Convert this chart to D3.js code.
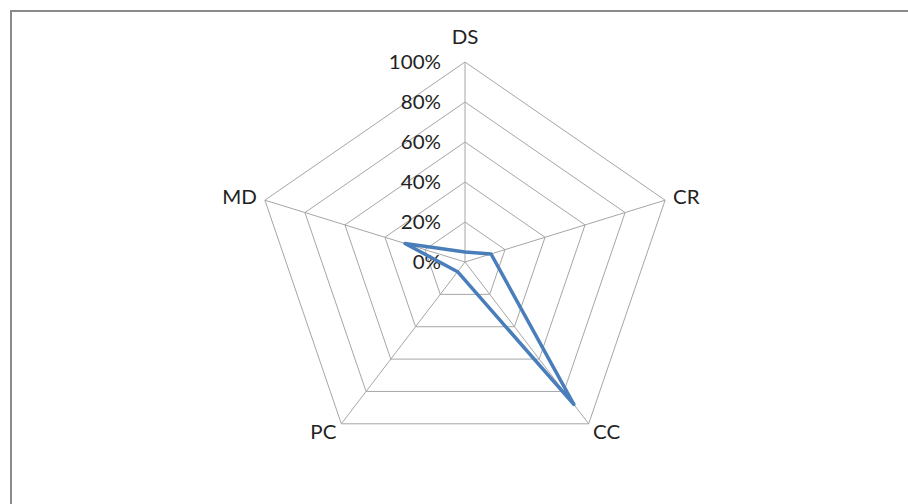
<!DOCTYPE html>
<html>
<head>
<meta charset="utf-8">
<script src="https://cdn.jsdelivr.net/npm/d3@7"></script>
<style>
  html, body { margin: 0; padding: 0; background: #fff; }
  svg { display: block; }
  text { font-family: Lato, "Open Sans", sans-serif; fill: #222; }
</style>
</head>
<body>
<svg id="chart" width="908" height="504"></svg>
<script>
const categories = ["DS", "CR", "CC", "PC", "MD"];
const seriesValues = [0.05, 0.13, 0.88, 0.06, 0.30];
const tickValues = [0, 0.2, 0.4, 0.6, 0.8, 1.0];
const tickLabels = ["0%", "20%", "40%", "60%", "80%", "100%"];

const W = 908, H = 504;
const cx = 465, cy = 262;
const R = 200;
const xStretch = 1.052;
const textScaleX = 1.08;
const fontSize = 19;

const svg = d3.select("#chart");

// frame (top and left edges visible)
svg.append("line").attr("x1", 10).attr("y1", 11).attr("x2", W).attr("y2", 11)
  .attr("stroke", "#8a8a8a").attr("stroke-width", 2);
svg.append("line").attr("x1", 11).attr("y1", 10).attr("x2", 11).attr("y2", H)
  .attr("stroke", "#8a8a8a").attr("stroke-width", 2);

const r = d3.scaleLinear().domain([0, 1]).range([0, R]);
const angle = d3.scaleLinear().domain([0, categories.length]).range([0, 2 * Math.PI]);

function pt(i, v) {
  const a = angle(i);
  return [cx + xStretch * r(v) * Math.sin(a), cy - r(v) * Math.cos(a)];
}

function addText(x, y, anchor, str) {
  g.append("text")
    .attr("transform", `translate(${x},${y}) scale(${textScaleX},1)`)
    .attr("dy", "0.35em")
    .attr("text-anchor", anchor)
    .attr("font-size", fontSize)
    .text(str);
}

const g = svg.append("g");

// grid rings
tickValues.forEach(t => {
  if (t === 0) return;
  const pts = categories.map((c, i) => pt(i, t));
  g.append("path")
    .attr("d", d3.line()(pts) + "Z")
    .attr("fill", "none")
    .attr("stroke", "#a6a6a6")
    .attr("stroke-width", 1);
});

// spokes
categories.forEach((c, i) => {
  const p = pt(i, 1);
  g.append("line")
    .attr("x1", cx).attr("y1", cy)
    .attr("x2", p[0]).attr("y2", p[1])
    .attr("stroke", "#a6a6a6").attr("stroke-width", 1);
});

// tick labels
tickValues.forEach((t, k) => {
  addText(cx - 24, cy - r(t), "end", tickLabels[k]);
});

// category labels
const labelPos = [
  { dx: 0, dy: -25, anchor: "middle" },
  { dx: 8, dy: -3, anchor: "start" },
  { dx: 18, dy: 9, anchor: "middle" },
  { dx: -18, dy: 9, anchor: "middle" },
  { dx: -8, dy: -3, anchor: "end" }
];
categories.forEach((c, i) => {
  const p = pt(i, 1);
  const lp = labelPos[i];
  addText(p[0] + lp.dx, p[1] + lp.dy, lp.anchor, c);
});

// series
const seriesPts = seriesValues.map((v, i) => pt(i, v));
g.append("path")
  .attr("d", d3.line()(seriesPts) + "Z")
  .attr("fill", "none")
  .attr("stroke", "#4a7ebb")
  .attr("stroke-width", 3.5)
  .attr("stroke-linejoin", "round");
</script>
</body>
</html>
